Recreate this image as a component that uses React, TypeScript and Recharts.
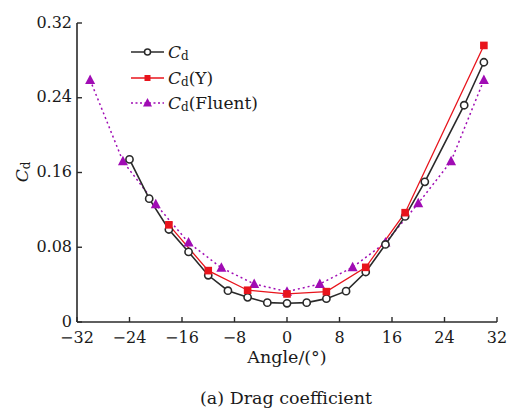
import React from 'react';
import { LineChart, Line, XAxis, YAxis } from 'recharts';

const cdAngles = [-24, -21, -18, -15, -12, -9, -6, -3, 0, 3, 6, 9, 12, 15, 18, 21, 27, 30];
const cdValues = [0.174, 0.132, 0.099, 0.075, 0.050, 0.0335, 0.0264, 0.0207, 0.020, 0.0207, 0.025, 0.033, 0.0535, 0.083, 0.113, 0.150, 0.232, 0.278];

const cdYAngles = [-18, -12, -6, 0, 6, 12, 18, 30];
const cdYValues = [0.104, 0.055, 0.034, 0.030, 0.0325, 0.0585, 0.117, 0.296];

const fluentAngles = [-30, -25, -20, -15, -10, -5, 0, 5, 10, 15, 20, 25, 30];
const fluentValues = [0.259, 0.172, 0.126, 0.085, 0.058, 0.0407, 0.0325, 0.0407, 0.0585, 0.085, 0.127, 0.172, 0.259];

const xTicks = [-32, -24, -16, -8, 0, 8, 16, 24, 32];
const yTicks = [0, 0.08, 0.16, 0.24, 0.32];
const yTickLabels = ['0', '0.08', '0.16', '0.24', '0.32'];

const legendLabels = ['(Y)', '(Fluent)'];

const cdData = cdAngles.map((a, i) => ({ a, v: cdValues[i] }));
const cdYData = cdYAngles.map((a, i) => ({ a, v: cdYValues[i] }));
const fluentData = fluentAngles.map((a, i) => ({ a, v: fluentValues[i] }));

const BLACK = '#2a2a2a';
const RED = '#e8141c';
const PURPLE = '#a00cb4';
const FONT = '"DejaVu Serif", serif';
const TXT = '#1a1a1a';

const Circle = (props: any) => {
  const { cx, cy } = props;
  if (cx == null || cy == null) return null;
  return <circle cx={cx} cy={cy} r={3.6} fill="#fff" stroke={BLACK} strokeWidth={1.6} />;
};
const Square = (props: any) => {
  const { cx, cy } = props;
  if (cx == null || cy == null) return null;
  return <rect x={cx - 3.8} y={cy - 3.8} width={7.6} height={7.6} fill={RED} />;
};
const Tri = (props: any) => {
  const { cx, cy } = props;
  if (cx == null || cy == null) return null;
  return <polygon points={`${cx},${cy - 5.5} ${cx - 5},${cy + 4} ${cx + 5},${cy + 4}`} fill={PURPLE} />;
};

const XTick = (props: any) => {
  const { x, y, payload } = props;
  const v = payload.value;
  const s = v < 0 ? '\u2212' + Math.abs(v) : String(v);
  return (
    <text x={x} y={y} textAnchor="middle" dominantBaseline="hanging" fontFamily={FONT} fontSize={16} fill={TXT}>
      {s}
    </text>
  );
};
const YTick = (props: any) => {
  const { x, y, payload } = props;
  const idx = yTicks.indexOf(payload.value);
  return (
    <text x={x} y={y - 1} textAnchor="end" dominantBaseline="central" fontFamily={FONT} fontSize={16} fill={TXT}>
      {yTickLabels[idx]}
    </text>
  );
};

const Legend = () => {
  const x0 = 131;
  const x1 = 164;
  const tx = 168;
  const rows = [52, 78, 103];
  const mx = (x0 + x1) / 2;
  return (
    <g>
      <line x1={x0} x2={x1} y1={rows[0]} y2={rows[0]} stroke={BLACK} strokeWidth={1.6} />
      <circle cx={mx} cy={rows[0]} r={3} fill="#fff" stroke={BLACK} strokeWidth={1.5} />
      <line x1={x0} x2={x1} y1={rows[1]} y2={rows[1]} stroke={RED} strokeWidth={1.4} />
      <rect x={mx - 3} y={rows[1] - 3} width={6} height={6} fill={RED} />
      <line x1={x0} x2={x1} y1={rows[2]} y2={rows[2]} stroke={PURPLE} strokeWidth={1.4} strokeDasharray="2 2.5" />
      <polygon points={`${mx},${rows[2] - 5} ${mx - 4.5},${rows[2] + 3.5} ${mx + 4.5},${rows[2] + 3.5}`} fill={PURPLE} />
      {rows.map((ry, i) => (
        <text key={i} x={tx} y={ry} dominantBaseline="central" fontFamily={FONT} fontSize={17} fill={TXT}>
          <tspan fontStyle="italic">C</tspan>
          <tspan fontSize={12} dy={4}>d</tspan>
          {i > 0 ? <tspan dy={-4}>{legendLabels[i - 1]}</tspan> : null}
        </text>
      ))}
    </g>
  );
};

export default function App() {
  return (
    <div style={{ position: 'absolute', left: 0, top: 0, width: 508, height: 412, background: '#fff' }}>
      <LineChart width={508} height={412} data={cdData} margin={{ top: 23, right: 11, left: 0, bottom: 0 }}>
        <XAxis
          dataKey="a"
          type="number"
          domain={[-32, 32]}
          ticks={xTicks}
          allowDataOverflow
          height={90}
          stroke={BLACK}
          strokeWidth={1.6}
          tickSize={-5}
          tickMargin={14}
          tick={<XTick />}
          tickLine={{ stroke: BLACK, strokeWidth: 1.4 }}
        />
        <YAxis
          type="number"
          domain={[0, 0.32]}
          ticks={yTicks}
          allowDataOverflow
          width={77}
          stroke={BLACK}
          strokeWidth={1.6}
          tickSize={-5}
          tickMargin={10}
          tick={<YTick />}
          tickLine={{ stroke: BLACK, strokeWidth: 1.4 }}
        />
        <Line data={fluentData} dataKey="v" type="linear" stroke={PURPLE} strokeWidth={1.5} strokeDasharray="2 3" dot={<Tri />} isAnimationActive={false} />
        <Line data={cdData} dataKey="v" type="linear" stroke={BLACK} strokeWidth={1.6} dot={<Circle />} isAnimationActive={false} />
        <Line data={cdYData} dataKey="v" type="linear" stroke={RED} strokeWidth={1.3} dot={<Square />} isAnimationActive={false} />
        <Legend />
        <text x={22} y={172} transform="rotate(-90 22 172)" textAnchor="middle" dominantBaseline="central" fontFamily={FONT} fontSize={17} fill={TXT}>
          <tspan fontStyle="italic">C</tspan>
          <tspan fontSize={12} dy={4}>d</tspan>
        </text>
        <text x={287} y={357} textAnchor="middle" dominantBaseline="central" fontFamily={FONT} fontSize={17.5} fill={TXT}>
          Angle/(°)
        </text>
        <text x={286} y={398} textAnchor="middle" dominantBaseline="central" fontFamily={FONT} fontSize={17.5} fill={TXT}>
          (a) Drag coefficient
        </text>
      </LineChart>
    </div>
  );
}
